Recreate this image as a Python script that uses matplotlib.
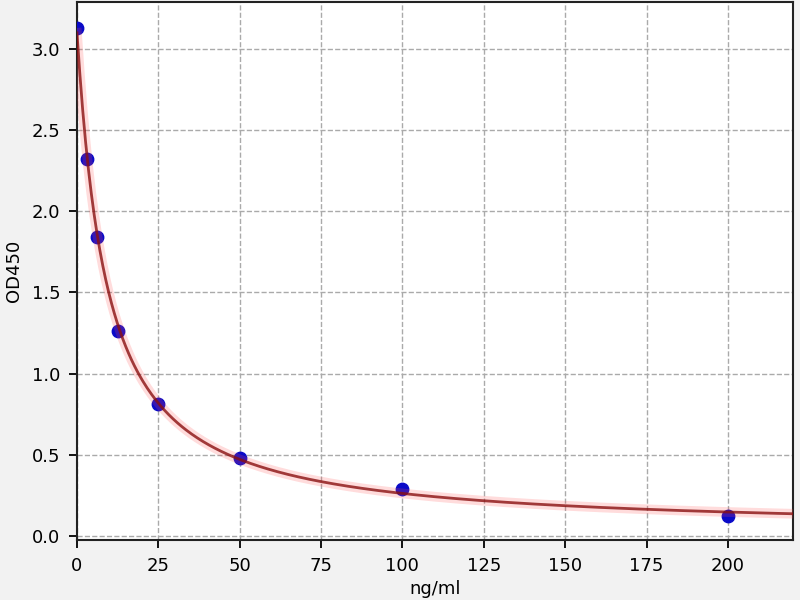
import numpy as np
import matplotlib
matplotlib.use("Agg")
from matplotlib import pyplot as plt

# standard points
conc = [0, 3.125, 6.25, 12.5, 25, 50, 100, 200]
od = [3.13, 2.32, 1.84, 1.26, 0.81, 0.48, 0.29, 0.12]

# 4PL fit parameters (estimated from the curve)
top = 3.1
bottom = 0.03
ec50 = 9.0
hill = 1.04

x_ticks = [0, 25, 50, 75, 100, 125, 150, 175, 200]
y_ticks = [0.0, 0.5, 1.0, 1.5, 2.0, 2.5, 3.0]

fig = plt.figure(figsize=(8, 6), dpi=100, facecolor="#f2f2f2")
ax = fig.add_axes([0.0962, 0.1, 0.895, 0.8967])
ax.set_facecolor("white")

ax.scatter(conc, od, s=80, color="#0a0ac8", zorder=3)

xs = np.linspace(0, 220, 500)
ys = bottom + (top - bottom) / (1 + (xs / ec50) ** hill)
ax.plot(xs, ys, color="#ff5050", lw=7, alpha=0.2, zorder=4)
ax.plot(xs, ys, color="#8a1010", lw=2, alpha=0.8, zorder=5)

ax.set_xlim(0, 220)
ax.set_ylim(-0.025, 3.29)
ax.set_xticks(x_ticks)
ax.set_yticks(y_ticks)
ax.tick_params(labelsize=13, length=6, width=1.3, pad=6)
ax.grid(True, linestyle="--", color="#aaaaaa", lw=1)
for s in ax.spines.values():
    s.set_linewidth(1.5)
    s.set_color("#222222")

ax.set_xlabel("ng/ml", fontsize=13, labelpad=4)
ax.set_ylabel("OD450", fontsize=13, labelpad=6)

fig.savefig("out.png", dpi=100, facecolor=fig.get_facecolor())
